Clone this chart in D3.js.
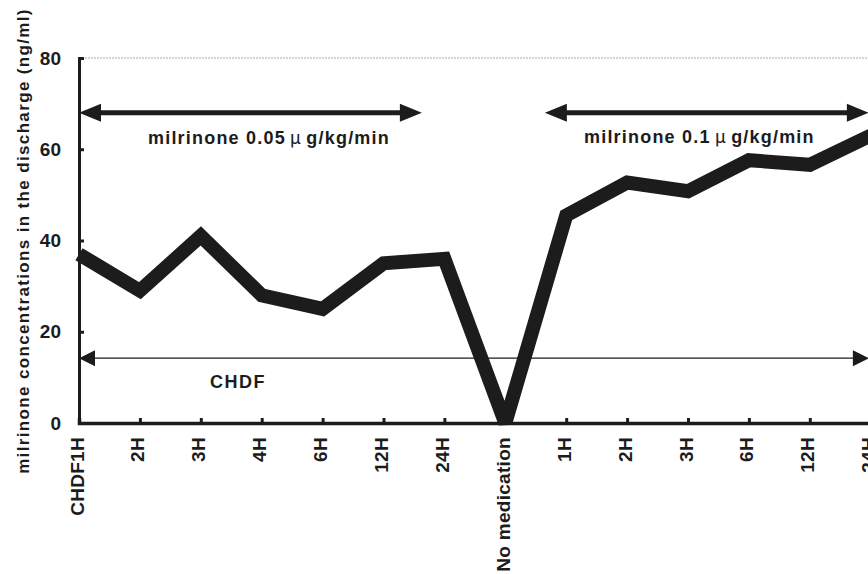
<!DOCTYPE html>
<html lang="en">
<head>
  <meta charset="UTF-8">
  <title>milrinone discharge</title>
  <script src="https://cdn.jsdelivr.net/npm/d3@7"></script>
  <style>
    body{ margin:0; background:#fff; }
    svg{ display:block; font-family:"Liberation Sans", Arial, sans-serif; }
  </style>
</head>
<body>
<div class="chart"></div>
<script>
const categories = ['CHDF1H','2H','3H','4H','6H','12H','24H','No medication','1H','2H','3H','6H','12H','24H'];
const values = [37, 29, 41, 28, 25, 35, 36, 0, 45.5, 52.7, 50.8, 57.6, 56.6, 63];
const yTicks = [0, 20, 40, 60, 80];
// arrows: start / end as category positions, y in ng/ml
const arrows = [
  {x0: 0, x1: 5.63, y: 68, label: ['milrinone 0.05', '\u03bc', 'g/kg/min'], thick: true},
  {x0: 7.65, x1: 12.97, y: 68, label: ['milrinone 0.1', '\u03bc', 'g/kg/min'], thick: true},
  {x0: 0, x1: 12.97, y: 14.2, label: ['CHDF'], thick: false}
];

const W = 868, H = 574;
const mLeft = 79, mTop = 58, mBottom = 423;
const ink = '#1c1c1c';
const svg = d3.select('.chart').append('svg').attr('width', W).attr('height', H);

const x = d3.scaleLinear().domain([0, categories.length - 1]).range([mLeft, mLeft + 13 * 60.9]);
const y = d3.scaleLinear().domain([0, 80]).range([mBottom, mTop]);

// dotted top line at 80
svg.append('line')
  .attr('x1', x(0)).attr('x2', W).attr('y1', y(80)).attr('y2', y(80))
  .attr('stroke', '#aaa').attr('stroke-width', 1).attr('stroke-dasharray', '2 1');

// y axis
const yAxis = d3.axisLeft(y).tickValues(yTicks).tickSize(-5).tickPadding(18);
const yG = svg.append('g').attr('transform', `translate(${mLeft},0)`).call(yAxis);
yG.select('.domain').attr('stroke', ink).attr('stroke-width', 3);
yG.selectAll('.tick line').attr('stroke', ink).attr('stroke-width', 3);
yG.selectAll('.tick text').attr('font-size', 19).attr('font-weight', 'bold').attr('fill', ink);

// x axis
const xAxis = d3.axisBottom(x).tickValues(d3.range(categories.length)).tickFormat(i => categories[i]).tickSize(-5).tickPadding(0);
const xG = svg.append('g').attr('transform', `translate(0,${mBottom})`).call(xAxis);
xG.select('.domain').attr('stroke', ink).attr('stroke-width', 3.5);
xG.selectAll('.tick line').attr('stroke', ink).attr('stroke-width', 3);
xG.selectAll('.tick text')
  .attr('font-size', 19).attr('font-weight', 'bold').attr('fill', ink)
  .attr('letter-spacing', 0.3)
  .attr('text-anchor', 'end').attr('dy', null)
  .attr('transform', 'translate(4,14) rotate(-90)');

// y label
svg.append('text')
  .attr('transform', 'translate(29,241) rotate(-90)')
  .attr('text-anchor', 'middle')
  .attr('font-size', 17).attr('font-weight', 'bold').attr('fill', ink)
  .attr('letter-spacing', 1.35)
  .text('milrinone concentrations in the discharge (ng/ml)');

// data line
const line = d3.line().x((d, i) => x(i)).y(d => y(d));
svg.append('path').datum(values)
  .attr('d', line)
  .attr('fill', 'none').attr('stroke', ink)
  .attr('stroke-width', 14).attr('stroke-linejoin', 'miter').attr('stroke-miterlimit', 3);

// arrows
arrows.forEach(a => {
  const hl = a.thick ? 22 : 16, hw = a.thick ? 9 : 8;
  const xa = x(a.x0), xb = x(a.x1), ya = y(a.y);
  svg.append('line').attr('x1', xa + hl - 2).attr('x2', xb - hl + 2).attr('y1', ya).attr('y2', ya)
    .attr('stroke', ink).attr('stroke-width', a.thick ? 5 : 1.3);
  svg.append('path').attr('d', `M${xa},${ya} L${xa + hl},${ya - hw} L${xa + hl},${ya + hw} Z`).attr('fill', ink);
  svg.append('path').attr('d', `M${xb},${ya} L${xb - hl},${ya - hw} L${xb - hl},${ya + hw} Z`).attr('fill', ink);
});

// arrow labels
function label(parts, lx, ly, size, spacing) {
  const t = svg.append('text').attr('x', lx).attr('y', ly).attr('font-size', size)
    .attr('font-weight', 'bold').attr('fill', ink).attr('letter-spacing', spacing);
  let afterMu = false;
  parts.forEach(p => {
    const s = t.append('tspan').text(p);
    if (p === '\u03bc') {
      s.attr('dx', 4).attr('font-family', '"Noto Sans CJK JP", sans-serif').attr('font-weight', 'normal');
      afterMu = true;
    } else if (afterMu) {
      s.attr('dx', 4);
      afterMu = false;
    }
  });
}
label(arrows[0].label, 148, 144, 18, 1.2);
label(arrows[1].label, 584, 143, 18, 1.2);
label(arrows[2].label, 210, 388, 18, 1.5);
</script>
</body>
</html>
